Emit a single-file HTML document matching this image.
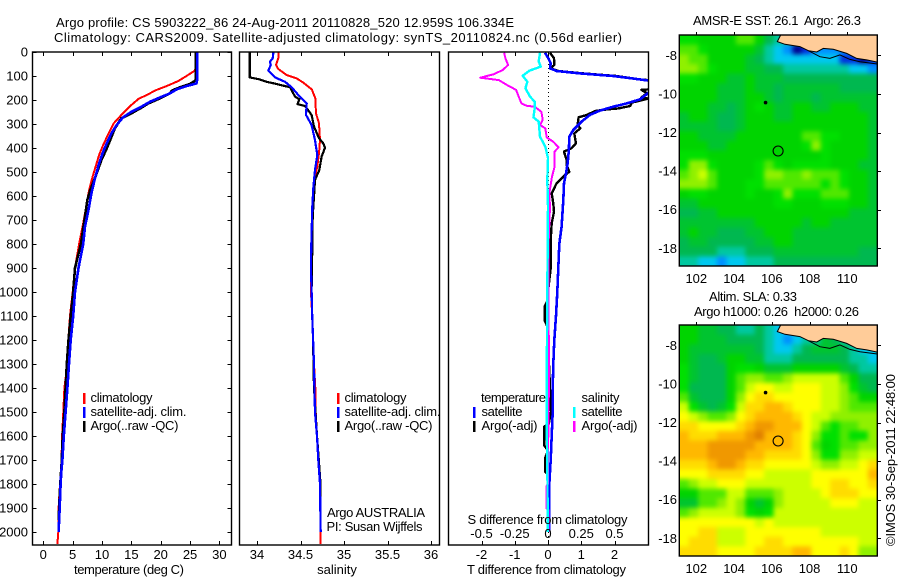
<!DOCTYPE html>
<html lang="en">
<head>
<meta charset="utf-8">
<title>Argo profile 5903222_86</title>
<style>
html,body{margin:0;padding:0;background:#fff;}
svg{display:block;}
text{font-family:"Liberation Sans",sans-serif;font-size:13px;fill:#000;white-space:pre;}
</style>
</head>
<body>
<svg id="chart" xmlns="http://www.w3.org/2000/svg" width="900" height="580" viewBox="0 0 900 580">
  <defs>
    <clipPath id="clip-temp"><rect x="32.5" y="52" width="199" height="493"/></clipPath>
    <clipPath id="clip-sal"><rect x="239.5" y="52" width="200" height="493"/></clipPath>
    <clipPath id="clip-diff"><rect x="448.5" y="52" width="200" height="493"/></clipPath>
    <clipPath id="clip-map1"><rect x="679.3" y="35" width="198" height="231"/></clipPath>
    <clipPath id="clip-map2"><rect x="679.3" y="325" width="198" height="231"/></clipPath>
    <filter id="map-soften" x="-5%" y="-5%" width="110%" height="110%" color-interpolation-filters="sRGB"><feGaussianBlur stdDeviation="2.4"/></filter>
  </defs>

  <text x="56" y="27" textLength="458">Argo profile: CS 5903222_86 24-Aug-2011 20110828_520 12.959S 106.334E</text>
  <text x="54" y="42" textLength="568">Climatology: CARS2009. Satellite-adjusted climatology: synTS_20110824.nc (0.56d earlier)</text>

  <g id="g-temp"></g>
  <g id="g-sal"></g>
  <g id="g-diff"></g>
  <g id="g-map1"></g>
  <g id="g-map2"></g>

  <text x="74" y="574" textLength="110">temperature (deg C)</text>
  <text x="337" y="574" text-anchor="middle">salinity</text>
  <text x="467" y="574" textLength="159">T difference from climatology</text>
  <text x="467.5" y="524" textLength="160">S difference from climatology</text>

  <g>
    <rect x="83" y="393" width="2.5" height="11" fill="#ff0000"/>
    <text x="90.5" y="402" textLength="62">climatology</text>
    <rect x="83" y="407" width="2.5" height="11" fill="#0000ff"/>
    <text x="90.5" y="416" textLength="96">satellite-adj. clim.</text>
    <rect x="83" y="421" width="2.5" height="11" fill="#000"/>
    <text x="90.5" y="430" textLength="88">Argo(..raw -QC)</text>
  </g>
  <g>
    <rect x="337" y="393" width="2.5" height="11" fill="#ff0000"/>
    <text x="344.5" y="402" textLength="62">climatology</text>
    <rect x="337" y="407" width="2.5" height="11" fill="#0000ff"/>
    <text x="344.5" y="416" textLength="96">satellite-adj. clim.</text>
    <rect x="337" y="421" width="2.5" height="11" fill="#000"/>
    <text x="344.5" y="430" textLength="88">Argo(..raw -QC)</text>
  </g>
  <text x="327" y="517" textLength="98">Argo AUSTRALIA</text>
  <text x="326.5" y="531" textLength="96">PI: Susan Wijffels</text>

  <g>
    <text x="481" y="402" textLength="65">temperature</text>
    <rect x="473" y="407" width="2.5" height="11" fill="#0000ff"/>
    <text x="481.5" y="416" textLength="41">satellite</text>
    <rect x="473" y="421" width="2.5" height="11" fill="#000"/>
    <text x="481.5" y="430" textLength="56">Argo(-adj)</text>
    <text x="581.5" y="402" textLength="38">salinity</text>
    <rect x="573" y="407" width="2.5" height="11" fill="#00ffff"/>
    <text x="581.5" y="416" textLength="41">satellite</text>
    <rect x="573" y="421" width="2.5" height="11" fill="#ff00ff"/>
    <text x="581.5" y="430" textLength="56">Argo(-adj)</text>
  </g>

  <text x="693" y="25" textLength="168">AMSR-E SST: 26.1  Argo: 26.3</text>
  <text x="709" y="301" textLength="88">Altim. SLA: 0.33</text>
  <text x="694" y="316" textLength="165">Argo h1000: 0.26  h2000: 0.26</text>
  <text transform="translate(895 546) rotate(-90)" textLength="172">©IMOS 30-Sep-2011 22:48:00</text>
</svg>

<script>
// ---------- profile data (depth in m) ----------
const tempClimDepth = [0,54,78,100,121,142,158,179,196,225,262,297,346,387,429,471,519,575,644,714,800,900,1000,1100,1200,1300,1400,1500,1600,1700,1800,1900,2000,2050];
const tempClimValue = [26.1,26.1,25.8,24.4,23.0,21.0,19.3,17.6,16.2,14.8,13.3,12.0,11.0,10.2,9.5,9.0,8.4,7.8,7.3,6.8,6.1,5.4,5.0,4.55,4.26,4.1,3.6,3.4,3.2,3.1,2.85,2.6,2.55,2.4];
const tempSatDepth = [0,110,131,142,156,172,189,207,231,249,272,304,339,381,415,464,526,589,658,728,800,900,1000,1100,1200,1300,1400,1500,1600,1700,1750,1800,1900,2000];
const tempSatValue = [26.25,26.25,26.1,24.4,22.7,21.6,19.9,18.2,16.5,15.0,13.6,12.5,11.6,10.8,10.2,9.5,8.8,8.2,7.7,7.1,6.8,6.0,5.4,5.1,4.67,4.38,4.1,3.8,3.5,3.25,3.07,2.95,2.8,2.6];
const tempArgoDepth = [0,117,133,147,161,172,193,214,231,256,276,318,367,408,450,512,575,617,686,800,900,1000,1100,1200,1300,1400,1500,1600,1700,1800,1900,1950];
const tempArgoValue = [26.0,26.0,25.0,23.3,21.9,21.6,19.9,17.9,16.8,15.0,13.3,12.2,11.4,10.7,9.9,9.0,8.0,7.5,7.1,6.4,5.4,5.1,4.67,4.3,4.0,3.8,3.6,3.3,3.15,2.9,2.7,2.65];

const salClimDepth = [1,26,54,71,96,110,128,156,193,256,297,367,422,478,533,617,756,894,992,1100,1200,1300,1400,1500,1600,1700,1800,2000,2050];
const salClimValue = [34.245,34.245,34.218,34.245,34.34,34.456,34.533,34.63,34.67,34.678,34.713,34.724,34.713,34.693,34.655,34.64,34.628,34.62,34.62,34.635,34.645,34.655,34.67,34.675,34.69,34.71,34.725,34.732,34.732];
const salSatDepth = [1,26,40,54,78,106,124,147,179,214,262,304,367,429,492,561,644,783,894,992,1100,1200,1300,1400,1500,1600,1700,1800,1900,2000];
const salSatValue = [34.188,34.18,34.15,34.157,34.13,34.207,34.322,34.398,34.475,34.571,34.563,34.628,34.667,34.693,34.667,34.648,34.636,34.625,34.62,34.628,34.635,34.645,34.655,34.66,34.667,34.69,34.705,34.724,34.728,34.732];
const salArgoDepth = [1,106,113,124,133,147,186,197,217,225,262,311,359,381,399,436,492,533,575,686,894,992,1100,1200,1300,1400,1500,1600,1700,1800,1950];
const salArgoValue = [33.916,33.916,34.015,34.11,34.22,34.38,34.437,34.487,34.464,34.552,34.628,34.655,34.713,34.762,34.782,34.743,34.716,34.667,34.66,34.64,34.632,34.628,34.635,34.645,34.65,34.655,34.672,34.69,34.71,34.73,34.73];

const dtSatDepth = [3,26,47,68,79,89,100,114,119,135,160,169,197,214,228,244,262,290,325,353,408,464,506,547,617,728,800,900,1000,1100,1200,1300,1400,1500,1600,1700,1800,2000];
const dtSatValue = [-0.09,0.01,0.08,0.06,0.26,0.96,1.96,2.76,3.02,3.6,3.3,3.03,2.77,2.37,1.96,1.56,1.26,1.01,0.76,0.64,0.63,0.59,0.54,0.48,0.46,0.41,0.34,0.31,0.28,0.24,0.19,0.16,0.14,0.14,0.11,0.08,0.04,0.04];
const dtArgoDepth = [3,26,54,68,79,89,100,114,117,135,156,158,172,189,194,211,225,235,239,246,262,272,304,318,339,381,401,415,450,471,499,513,547,589,631,665,714,783,900,1000,1040,1060,1120,1140,1200,1400,1500,1550,1560,1640,1660,1690,1750,1760,2000];
const dtArgoValue = [0.06,0.18,0.19,0.08,0.31,1.06,2.06,2.76,3.02,3.5,3.02,2.81,2.98,2.81,3.02,2.52,2.47,2.12,1.77,1.42,1.17,0.92,0.89,0.97,0.79,0.84,0.71,0.48,0.56,0.56,0.64,0.51,0.26,0.11,0.16,0.18,0.11,0.08,0.08,0,-0.03,-0.1,-0.1,-0.03,0,0.06,0.09,0.02,-0.11,-0.11,0,-0.08,-0.08,0.02,0.02];
const dsSatDepth = [3,40,61,78,99,124,151,186,207,235,272,290,353,394,443,533,644,783,1000,1400,1600,1800,2000];
const dsSatValue = [-0.06,-0.07,-0.055,-0.14,-0.19,-0.155,-0.17,-0.135,-0.10,-0.10,-0.11,-0.07,-0.06,-0.02,0,-0.005,0,-0.0025,-0.005,-0.01,-0.008,-0.004,-0.002];
const dsArgoDepth = [3,26,54,75,93,107,117,137,158,186,214,224,228,249,283,304,318,356,374,397,415,478,519,589,644,783,1000,1300,1400,1500,1800,1810,1900,1910,2000];
const dsArgoValue = [-0.33,-0.32,-0.30,-0.34,-0.41,-0.51,-0.37,-0.31,-0.24,-0.22,-0.20,-0.16,-0.10,-0.05,-0.04,-0.06,-0.02,-0.01,0.04,0.08,0.05,0.05,0.03,0.01,0.015,0.005,0.003,0.0075,0.0075,0.003,0,-0.0125,-0.0125,0.005,0.005];

// ---------- tick labels ----------
const depthTicks = [0,100,200,300,400,500,600,700,800,900,1000,1100,1200,1300,1400,1500,1600,1700,1800,1900,2000];
const tempTicks = [0,5,10,15,20,25,30];
const salTicks = [34,34.5,35,35.5,36];
const dtTicks = [-2,-1,0,1,2];
const dsTicks = [-0.5,-0.25,0,0.25,0.5];
const lonTicks = [102,104,106,108,110];
const latTicks = [-8,-10,-12,-14,-16,-18];

// ---------- map fields: colour-level per 0.5 degree cell, north to south ----------
const sstGrid = [
[8,8,7,7,7,7,9,9,7,5,4,4,3,3,3,3,3,3,3,3,3],
[9,9,8,7,7,7,7,7,6,4,3,2,0,1,2,2,2,2,3,3,3],
[10,9,9,7,7,7,7,6,5,4,3,3,3,3,3,3,3,1,1,0,1],
[10,10,9,8,7,7,7,6,6,5,5,4,4,4,4,4,4,4,3,3,2],
[8,8,7,7,7,6,6,7,6,6,6,5,5,5,5,5,5,5,5,5,5],
[7,7,7,7,6,6,6,7,6,6,5,6,6,6,6,6,6,5,5,5,5],
[7,7,7,7,6,6,6,7,7,6,5,6,6,6,5,6,6,6,6,6,6],
[7,7,7,6,6,5,6,7,8,7,6,6,7,7,6,6,7,7,7,6,6],
[6,7,7,6,5,5,6,7,7,7,6,6,7,7,7,7,7,7,7,7,6],
[6,6,6,6,5,5,6,7,7,7,7,7,7,7,7,7,7,7,7,7,6],
[7,7,6,6,6,6,7,7,7,7,7,7,7,9,9,8,8,7,7,7,6],
[7,7,7,6,6,7,7,7,7,7,7,7,7,8,10,8,7,7,7,7,6],
[8,8,8,7,7,7,7,7,7,7,7,7,7,7,7,8,7,7,7,7,6],
[8,10,10,8,7,7,7,7,8,9,8,7,8,8,8,8,7,7,7,6,6],
[9,10,11,9,7,7,7,7,8,10,10,9,9,10,9,9,9,8,7,7,6],
[10,10,10,9,7,7,7,8,8,9,9,9,9,9,9,8,9,8,7,7,6],
[7,8,8,7,7,7,7,8,7,7,8,10,8,8,8,9,9,9,7,7,6],
[6,6,7,7,7,7,7,7,7,7,8,8,7,7,7,8,8,8,7,7,6],
[5,5,6,6,7,7,7,7,7,7,7,7,7,7,7,7,7,7,6,6,6],
[6,6,6,6,6,6,6,6,7,7,7,7,7,6,7,7,6,6,6,6,6],
[6,7,6,6,5,5,5,6,6,7,7,7,6,6,6,6,6,6,6,6,6],
[5,6,6,5,5,5,5,5,6,6,7,7,6,6,6,6,6,6,6,6,6],
[5,5,5,5,4,4,4,5,5,5,6,6,6,6,6,6,6,6,6,5,5],
[4,4,3,3,2,3,3,4,4,4,5,5,5,5,5,5,5,5,5,5,5]
];
const slaGrid = [
[7,7,6,6,5,5,4,4,5,4,3,3,3,3,3,3,3,3,3,3,3],
[7,7,6,6,6,5,5,5,5,4,3,2,3,4,4,6,5,4,3,3,3],
[7,6,6,6,6,6,6,6,5,4,3,3,4,5,6,6,6,5,4,3,3],
[7,6,5,5,6,7,7,6,6,4,4,4,5,5,5,5,5,5,4,4,3],
[8,6,5,5,5,7,8,8,7,6,6,6,7,7,7,7,7,6,5,4,4],
[8,6,5,5,5,7,9,10,10,9,9,10,11,11,11,11,11,9,7,5,5],
[8,5,5,5,5,7,9,11,12,12,11,11,12,12,12,11,11,10,8,6,5],
[9,6,5,5,5,7,10,12,13,13,12,12,12,12,12,11,11,10,9,7,7],
[11,8,6,5,6,8,11,13,13,14,14,13,12,12,12,11,11,10,9,9,9],
[12,11,10,9,9,10,12,13,14,14,14,14,13,12,11,11,10,10,10,10,10],
[13,13,12,12,12,12,13,14,15,15,14,14,14,12,11,9,8,9,9,10,10],
[14,13,13,13,14,14,14,15,16,14,14,14,13,12,10,8,8,9,8,8,10],
[14,14,14,15,15,15,15,15,14,14,14,14,13,12,9,7,8,9,9,10,10],
[14,14,14,15,15,15,15,14,14,13,13,13,13,12,10,8,8,10,10,11,11],
[13,13,13,14,15,15,14,13,13,12,12,12,12,12,11,10,10,11,11,12,13],
[12,12,12,13,13,13,13,12,12,11,11,11,11,11,12,12,12,12,12,12,14],
[9,10,11,11,12,12,12,11,11,11,11,11,11,11,12,12,13,13,12,12,13],
[7,7,9,9,9,11,11,9,9,9,10,11,11,11,11,12,13,13,13,12,12],
[6,6,9,9,10,11,10,7,6,7,10,11,11,11,11,11,12,12,12,11,11],
[9,10,11,11,11,11,10,8,7,8,11,11,11,11,11,11,11,11,11,11,11],
[12,12,12,12,12,12,12,12,11,12,11,11,11,11,11,11,11,11,11,11,11],
[12,12,13,13,11,11,11,12,12,12,12,12,12,12,12,11,11,11,11,11,11],
[12,13,13,13,11,11,11,12,12,13,13,12,12,12,12,12,12,12,12,11,11],
[13,13,13,13,12,12,12,12,13,13,13,13,14,14,12,12,12,13,12,10,10]
];
const levelColors = ['#000090','#0030e0','#0090ff','#00c8f0','#00c8a0','#00b850','#00c430','#00d400','#00e000','#50e800','#90f000','#ccff00','#ffff00','#ffdc00','#ffb800','#f09800','#e08000'];
const coastLon = [106.47,106.29,106.70,107.49,107.94,108.38,108.73,109.26,109.97,110.5,111.03,111.59];
const coastLat = [-6.95,-7.29,-7.43,-7.55,-7.76,-7.83,-7.64,-7.69,-7.90,-8.16,-8.24,-8.35];
const shelfLon = [107.94,108.55,109.08,109.61,110.14,110.67,111.59];
const shelfLat = [-7.76,-8.07,-8.16,-7.98,-8.21,-8.33,-8.45];
const floatLon = 106.334;
const floatLat = -12.959;
const islandLon = 105.67;
const islandLat = -10.45;

// ---------- scales ----------
const NS = 'http://www.w3.org/2000/svg';
const yDepth = d => 52 + d * 0.24;
const xTemp = t => 43.3 + t * 5.87;
const xSal = s => 257 + (s - 34) * 87;
const xDT = v => 548 + v * 33.25;
const xDS = v => 548 + v * 133;
const xLon = l => 696.3 + (l - 102) * 18.875;
const yLat1 = l => 55.3 + (-8 - l) * 19.3;
const yLat2 = l => 345.3 + (-8 - l) * 19.3;

function mk(parent, tag, attrs, txt) {
  const el = document.createElementNS(NS, tag);
  for (const k in attrs) el.setAttribute(k, attrs[k]);
  if (txt !== undefined) el.textContent = txt;
  parent.appendChild(el);
  return el;
}

function drawSeries(parent, depths, values, xf, color, width, clip, name) {
  const pts = depths.map((d, i) => xf(values[i]).toFixed(1) + ',' + yDepth(d).toFixed(1)).join(' ');
  const el = mk(parent, 'polyline', {points: pts, fill: 'none', stroke: color, 'stroke-width': width, 'clip-path': 'url(#' + clip + ')', 'shape-rendering': 'crispEdges', 'stroke-linejoin': 'round'});
  
  
}

function drawFrame(parent, x, y, w, h) {
  const el = mk(parent, 'rect', {x: x, y: y, width: w, height: h, fill: 'none', stroke: '#000', 'stroke-width': 1.4});
  
  
}

function tick(parent, x1, y1, x2, y2) {
  const el = mk(parent, 'line', {x1: x1, y1: y1, x2: x2, y2: y2, stroke: '#000', 'stroke-width': 1, 'shape-rendering': 'crispEdges'});
  
  
}

function label(parent, x, y, anchor, s) {
  const el = mk(parent, 'text', {x: x, y: y, 'text-anchor': anchor}, s);
  
  
}

function xAxis(parent, ticks, xf) {
  ticks.forEach(t => {
    const x = Math.round(xf(t)) + 0.5;
    tick(parent, x, 52, x, 56);
    tick(parent, x, 541, x, 545);
    label(parent, xf(t), 559, 'middle', String(t));
  });
}

// ---------- temperature panel ----------
const gT = document.getElementById('g-temp');
drawSeries(gT, tempClimDepth, tempClimValue, xTemp, '#ff0000', 2, 'clip-temp', 'temperature-climatology-line');
drawSeries(gT, tempArgoDepth, tempArgoValue, xTemp, '#000000', 2.6, 'clip-temp', 'temperature-argo-line');
drawSeries(gT, tempSatDepth, tempSatValue, xTemp, '#0000ff', 2.6, 'clip-temp', 'temperature-satellite-line');
drawFrame(gT, 32.5, 52, 199, 493);
xAxis(gT, tempTicks, xTemp);
depthTicks.forEach(d => {
  const y = Math.round(yDepth(d)) + 0.5;
  tick(gT, 32.5, y, 36.5, y);
  tick(gT, 227.5, y, 231.5, y);
  label(gT, 28, yDepth(d) + 4.5, 'end', String(d));
});

// ---------- salinity panel ----------
const gS = document.getElementById('g-sal');
drawSeries(gS, salClimDepth, salClimValue, xSal, '#ff0000', 2, 'clip-sal', 'salinity-climatology-line');
drawSeries(gS, salArgoDepth, salArgoValue, xSal, '#000000', 2.2, 'clip-sal', 'salinity-argo-line');
drawSeries(gS, salSatDepth, salSatValue, xSal, '#0000ff', 2.2, 'clip-sal', 'salinity-satellite-line');
drawFrame(gS, 239.5, 52, 200, 493);
xAxis(gS, salTicks, xSal);

// ---------- difference panel ----------
const gD = document.getElementById('g-diff');
const zeroLine = mk(gD, 'line', {x1: 548.5, y1: 52, x2: 548.5, y2: 545, stroke: '#000', 'stroke-width': 1, 'stroke-dasharray': '1 3', 'shape-rendering': 'crispEdges'});


drawSeries(gD, dtArgoDepth, dtArgoValue, xDT, '#000000', 2.4, 'clip-diff', 't-difference-argo-line');
drawSeries(gD, dtSatDepth, dtSatValue, xDT, '#0000ff', 2.6, 'clip-diff', 't-difference-satellite-line');
drawSeries(gD, dsArgoDepth, dsArgoValue, xDS, '#ff00ff', 2, 'clip-diff', 's-difference-argo-line');
drawSeries(gD, dsSatDepth, dsSatValue, xDS, '#00ffff', 2.4, 'clip-diff', 's-difference-satellite-line');
drawFrame(gD, 448.5, 52, 200, 493);
xAxis(gD, dtTicks, xDT);
dsTicks.forEach(t => label(gD, xDS(t), 538, 'middle', String(t)));

// ---------- maps ----------
function drawMap(parent, grid, yLat, top, clipId) {
  const left = 679.3, cw = 198 / 21, ch = 231 / 24, pad = 10;
  const lastRow = grid.length - 1;
  const clipGroup = mk(parent, 'g', {'clip-path': 'url(#' + clipId + ')'});
  
  
  const field = mk(clipGroup, 'g', {filter: 'url(#map-soften)'});
  
  
  grid.forEach((row, r) => {
    const lastCol = row.length - 1;
    row.forEach((lvl, c) => {
      const x0 = left + c * cw - (c === 0 ? pad : 0);
      const x1 = left + (c + 1) * cw + (c === lastCol ? pad : 0.4);
      const y0 = top + r * ch - (r === 0 ? pad : 0);
      const y1 = top + (r + 1) * ch + (r === lastRow ? pad : 0.4);
      const cell = mk(field, 'rect', {x: x0.toFixed(2), y: y0.toFixed(2), width: (x1 - x0).toFixed(2), height: (y1 - y0).toFixed(2), fill: levelColors[lvl]});
      
      
    });
  });
  const landPts = coastLon.map((l, i) => xLon(l).toFixed(1) + ',' + yLat(coastLat[i]).toFixed(1));
  const land = mk(parent, 'polygon', {points: landPts.join(' ') + ' 877.3,' + top + ' ' + xLon(106.47).toFixed(1) + ',' + top, fill: '#ffcc99'});
  
  
  const coast = mk(parent, 'polyline', {points: landPts.join(' '), fill: 'none', stroke: '#000', 'stroke-width': 1});
  
  
  const shelf = mk(parent, 'polyline', {points: shelfLon.map((l, i) => xLon(l).toFixed(1) + ',' + yLat(shelfLat[i]).toFixed(1)).join(' '), fill: 'none', stroke: '#000', 'stroke-width': 1});
  
  
  const island = mk(parent, 'circle', {cx: xLon(islandLon), cy: yLat(islandLat), r: 1.8, fill: '#000'});
  
  
  const marker = mk(parent, 'circle', {cx: xLon(floatLon), cy: yLat(floatLat), r: 5, fill: 'none', stroke: '#000', 'stroke-width': 1.1});
  
  
  drawFrame(parent, 679.3, top, 198, 231);
  lonTicks.forEach(l => {
    const x = Math.round(xLon(l)) + 0.5;
    tick(parent, x, top - 3, x, top);
    label(parent, xLon(l), top + 248, 'middle', String(l));
  });
  latTicks.forEach(l => {
    const y = Math.round(yLat(l)) + 0.5;
    tick(parent, 877.3, y, 881, y);
    label(parent, 677, yLat(l) + 4.5, 'end', String(l));
  });
}
drawMap(document.getElementById('g-map1'), sstGrid, yLat1, 35, 'clip-map1');
drawMap(document.getElementById('g-map2'), slaGrid, yLat2, 325, 'clip-map2');
</script>
</body>
</html>
